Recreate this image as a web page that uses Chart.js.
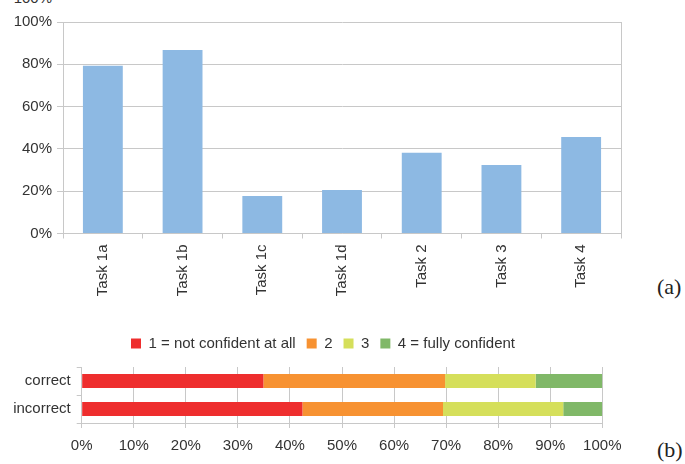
<!DOCTYPE html>
<html><head><meta charset="utf-8">
<script src="https://cdn.jsdelivr.net/npm/chart.js@4.4.1/dist/chart.umd.min.js"></script>
<style>
html,body{margin:0;padding:0;background:#fff;width:685px;height:464px;overflow:hidden;position:relative;font-family:"Liberation Sans",Arial,sans-serif;}
#top{position:absolute;left:0;top:0;width:640px;height:305px;}
#bot{position:absolute;left:0;top:325px;width:646px;height:140px;}
.tag{position:absolute;font-family:"Liberation Serif",serif;font-size:22px;line-height:22px;color:#222;}
#cut{position:absolute;right:633px;top:-10px;font-size:15px;line-height:15px;color:#333;}
</style></head><body>
<div id="cut">100%</div>
<div id="top"><canvas id="c1" width="640" height="305"></canvas></div>
<div id="bot"><canvas id="c2" width="646" height="140"></canvas></div>
<div class="tag" style="left:657px;top:276px">(a)</div>
<div class="tag" style="left:657px;top:439px">(b)</div>
<script>
// ---- data: chart (a) ----
const taskLabels = ['Task 1a', 'Task 1b', 'Task 1c', 'Task 1d', 'Task 2', 'Task 3', 'Task 4'];
const taskValues = [79.3, 86.8, 17.7, 20.6, 38.2, 32.4, 45.6];
const topTickStep = 20;

// ---- data: chart (b) ----
const groups = ['correct', 'incorrect'];
const levelNames = ['1 = not confident at all', '2', '3', '4 = fully confident'];
const level1 = [34.9, 42.4];
const level2 = [34.9, 27.0];
const level3 = [17.4, 23.1];
const level4 = [12.8, 7.5];
const bottomTickStep = 10;

const levelColors = ['#ee2e2e', '#f79232', '#d5df5b', '#80b868'];
const gridColor = '#c8c8c8';
const textColor = '#333333';
const tickFont = {family: '"Liberation Sans", Arial, sans-serif', size: 15};
Chart.defaults.font.family = '"Liberation Sans", Arial, sans-serif';

new Chart(document.getElementById('c1'), {
  type: 'bar',
  data: {
    labels: taskLabels,
    datasets: [{data: taskValues, backgroundColor: '#8db9e3', categoryPercentage: 0.5, barPercentage: 1.0}]
  },
  options: {
    responsive: false, animation: false, devicePixelRatio: 1,
    layout: {padding: {top: 22, right: 19, left: 0, bottom: 0}},
    plugins: {legend: {display: false}, tooltip: {enabled: false}},
    scales: {
      x: {
        grid: {offset: true, drawOnChartArea: false, color: gridColor, tickLength: 5},
        border: {color: gridColor},
        ticks: {minRotation: 90, maxRotation: 90, padding: 6, color: textColor, font: tickFont},
        afterFit: s => { s.height = 71.5; }
      },
      y: {
        min: 0, max: 100,
        ticks: {stepSize: topTickStep, callback: v => v + '%', padding: 5, color: textColor, font: tickFont},
        grid: {color: gridColor, tickLength: 6},
        border: {color: gridColor},
        afterFit: s => { s.width = 63; }
      },
      y2: {
        type: 'linear', position: 'right', display: true,
        ticks: {display: false}, grid: {display: false},
        border: {display: true, color: gridColor},
        afterFit: s => { s.width = 0; }
      }
    }
  }
});

new Chart(document.getElementById('c2'), {
  type: 'bar',
  data: {
    labels: groups,
    datasets: [level1, level2, level3, level4].map((d, i) => ({
      label: levelNames[i], data: d, backgroundColor: levelColors[i],
      categoryPercentage: 0.5, barPercentage: 1.0
    }))
  },
  options: {
    indexAxis: 'y',
    responsive: false, animation: false, devicePixelRatio: 1,
    layout: {padding: {top: 0, right: 0, left: 0, bottom: 0}},
    plugins: {
      legend: {labels: {boxWidth: 10, boxHeight: 10, padding: 11, color: textColor, font: tickFont}},
      tooltip: {enabled: false}
    },
    scales: {
      x: {
        stacked: true, min: 0, max: 100,
        ticks: {stepSize: bottomTickStep, callback: v => v + '%', padding: 9, color: textColor, font: tickFont},
        grid: {color: gridColor, tickLength: 5},
        border: {color: gridColor},
        afterFit: s => { s.height = 42; }
      },
      xTop: {
        type: 'linear', position: 'top', display: true,
        ticks: {display: false}, grid: {display: false}, border: {display: false},
        afterFit: s => { s.height = 6; }
      },
      y: {
        stacked: true,
        ticks: {padding: 6, color: textColor, font: tickFont},
        grid: {offset: true, drawOnChartArea: false, color: gridColor, tickLength: 5},
        border: {color: gridColor},
        afterFit: s => { s.width = 81.7; }
      },
      yRight: {
        type: 'linear', position: 'right', display: true,
        ticks: {display: false}, grid: {display: false}, border: {display: false},
        afterFit: s => { s.width = 43.7; }
      }
    }
  }
});
</script>
</body></html>
